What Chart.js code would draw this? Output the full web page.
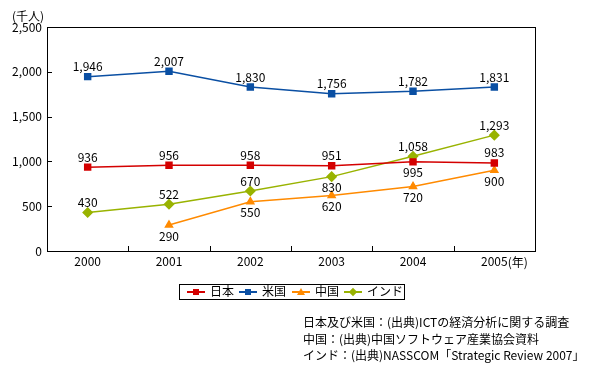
<!DOCTYPE html>
<html>
<head>
<meta charset="utf-8">
<script src="https://cdn.jsdelivr.net/npm/chart.js@4/dist/chart.umd.min.js"></script>
<style>
  body { margin: 0; background: #fff; font-family: "Noto Sans CJK JP", sans-serif; }
  #wrap { position: relative; width: 607px; height: 368px; }
  #legend {
    position: absolute; left: 179px; top: 284px; width: 224px; height: 14px;
    border: 1px solid #000; font-size: 12px; line-height: 14px;
  }
  .item { position: absolute; top: 0; height: 14px; }
  .line { position: absolute; top: 6px; left: 0; width: 18px; height: 2px; }
  .mk { position: absolute; top: 4px; left: 6px; width: 6px; height: 6px; }
  .txt { position: absolute; left: 23px; top: -1px; white-space: nowrap; }
  #notes {
    position: absolute; left: 303px; top: 314px; font-size: 12px; line-height: 16.5px;
    white-space: pre; color: #000;
  }
</style>
</head>
<body>
<div id="wrap">
  <canvas id="chart" width="607" height="368"></canvas>
  <div id="legend"></div>
  <div id="notes"></div>
</div>
<script>
const years = ['2000', '2001', '2002', '2003', '2004', '2005'];
const japan = [936, 956, 958, 951, 995, 983];
const usa = [1946, 2007, 1830, 1756, 1782, 1831];
const china = [null, 290, 550, 620, 720, 900];
const india = [430, 522, 670, 830, 1058, 1293];
const yTicks = [0, 500, 1000, 1500, 2000, 2500];

// label placement: true = below point
const below = {
  japan: [false, false, false, false, true, false],
  usa: [false, false, false, false, false, false],
  china: [true, true, true, true, true, true],
  india: [false, false, false, true, false, false]
};

const notes = [
  '日本及び米国：(出典)ICTの経済分析に関する調査',
  '中国：(出典)中国ソフトウェア産業協会資料',
  'インド：(出典)NASSCOM「Strategic Review 2007」'
];

const series = [
  { key: 'japan', label: '日本', data: japan, color: '#d40000', style: 'rect', r: 4.2 },
  { key: 'usa', label: '米国', data: usa, color: '#0a4fa3', style: 'rect', r: 4.2 },
  { key: 'china', label: '中国', data: china, color: '#ff8a00', style: 'triangle', r: 4 },
  { key: 'india', label: 'インド', data: india, color: '#99b300', style: 'rectRot', r: 4.5 }
];

const fmt = (v) => v.toLocaleString('en-US');
const FONT = '12px "Noto Sans CJK JP", sans-serif';

const decor = {
  id: 'decor',
  afterDatasetsDraw(chart) {
    const { ctx, chartArea: a, scales } = chart;
    ctx.save();
    ctx.strokeStyle = '#000';
    ctx.lineWidth = 1;
    ctx.strokeRect(a.left + 0.5, a.top + 0.5, a.right - a.left, a.bottom - a.top);
    // inner ticks
    ctx.beginPath();
    yTicks.forEach((t) => {
      const y = Math.round(scales.y.getPixelForValue(t)) + 0.5;
      ctx.moveTo(a.left, y);
      ctx.lineTo(a.left + 5, y);
    });
    const step = (a.right - a.left) / years.length;
    for (let i = 1; i < years.length; i++) {
      const x = Math.round(a.left + i * step) + 0.5;
      ctx.moveTo(x, a.bottom);
      ctx.lineTo(x, a.bottom - 5);
    }
    ctx.stroke();

    // value labels
    ctx.font = FONT;
    ctx.fillStyle = '#000';
    ctx.textAlign = 'center';
    ctx.textBaseline = 'middle';
    chart.data.datasets.forEach((ds, di) => {
      const meta = chart.getDatasetMeta(di);
      meta.data.forEach((pt, i) => {
        const v = ds.data[i];
        if (v == null) return;
        const dy = below[ds.key][i] ? 11 : -10;
        ctx.fillText(fmt(v), pt.x, pt.y + dy);
      });
    });

    // unit labels
    ctx.textAlign = 'left';
    ctx.fillText('(千人)', 12, 16);
    const lastX = scales.x.getPixelForValue(years.length - 1);
    const w = ctx.measureText(years[years.length - 1]).width;
    ctx.fillText('(年)', lastX + w / 2, a.bottom + 11);
    ctx.restore();
  }
};

new Chart(document.getElementById('chart'), {
  type: 'line',
  data: {
    labels: years,
    datasets: series.map((s) => ({
      key: s.key,
      label: s.label,
      data: s.data,
      borderColor: s.color,
      backgroundColor: s.color,
      borderWidth: 1.5,
      pointStyle: s.style,
      pointRadius: s.r,
      pointHoverRadius: s.r,
      tension: 0,
      spanGaps: false
    }))
  },
  options: {
    responsive: false,
    animation: false,
    layout: { padding: { left: 0, top: 27, right: 72, bottom: 97 } },
    plugins: { legend: { display: false }, tooltip: { enabled: false } },
    scales: {
      x: {
        offset: true,
        grid: { display: false, drawTicks: false },
        border: { display: false },
        ticks: { color: '#000', font: { size: 12, family: '"Noto Sans CJK JP", sans-serif' }, padding: 3, maxRotation: 0 },
        afterFit(scale) { scale.height = 20; }
      },
      y: {
        min: 0,
        max: 2500,
        grid: { display: false, drawTicks: false },
        border: { display: false },
        afterBuildTicks(scale) { scale.ticks = yTicks.map((v) => ({ value: v })); },
        ticks: {
          color: '#000',
          font: { size: 12, family: '"Noto Sans CJK JP", sans-serif' },
          padding: 5,
          callback: (v) => fmt(v)
        },
        afterFit(scale) { scale.width = 47; }
      }
    }
  },
  plugins: [decor]
});

// legend
const lg = document.getElementById('legend');
const xs = [7, 59, 112, 164];
series.forEach((s, i) => {
  const it = document.createElement('div');
  it.className = 'item';
  it.style.left = xs[i] + 'px';
  let mk = '<span class="mk" style="background:' + s.color + '"></span>';
  if (s.style === 'triangle') {
    mk = '<span class="mk" style="width:0;height:0;left:5px;top:3px;border-left:4px solid transparent;border-right:4px solid transparent;border-bottom:7px solid ' + s.color + '"></span>';
  } else if (s.style === 'rectRot') {
    mk = '<span class="mk" style="transform:rotate(45deg);background:' + s.color + '"></span>';
  }
  it.innerHTML = '<span class="line" style="background:' + s.color + '"></span>' + mk +
    '<span class="txt">' + s.label + '</span>';
  lg.appendChild(it);
});

document.getElementById('notes').textContent = notes.join('\n');
</script>
</body>
</html>
